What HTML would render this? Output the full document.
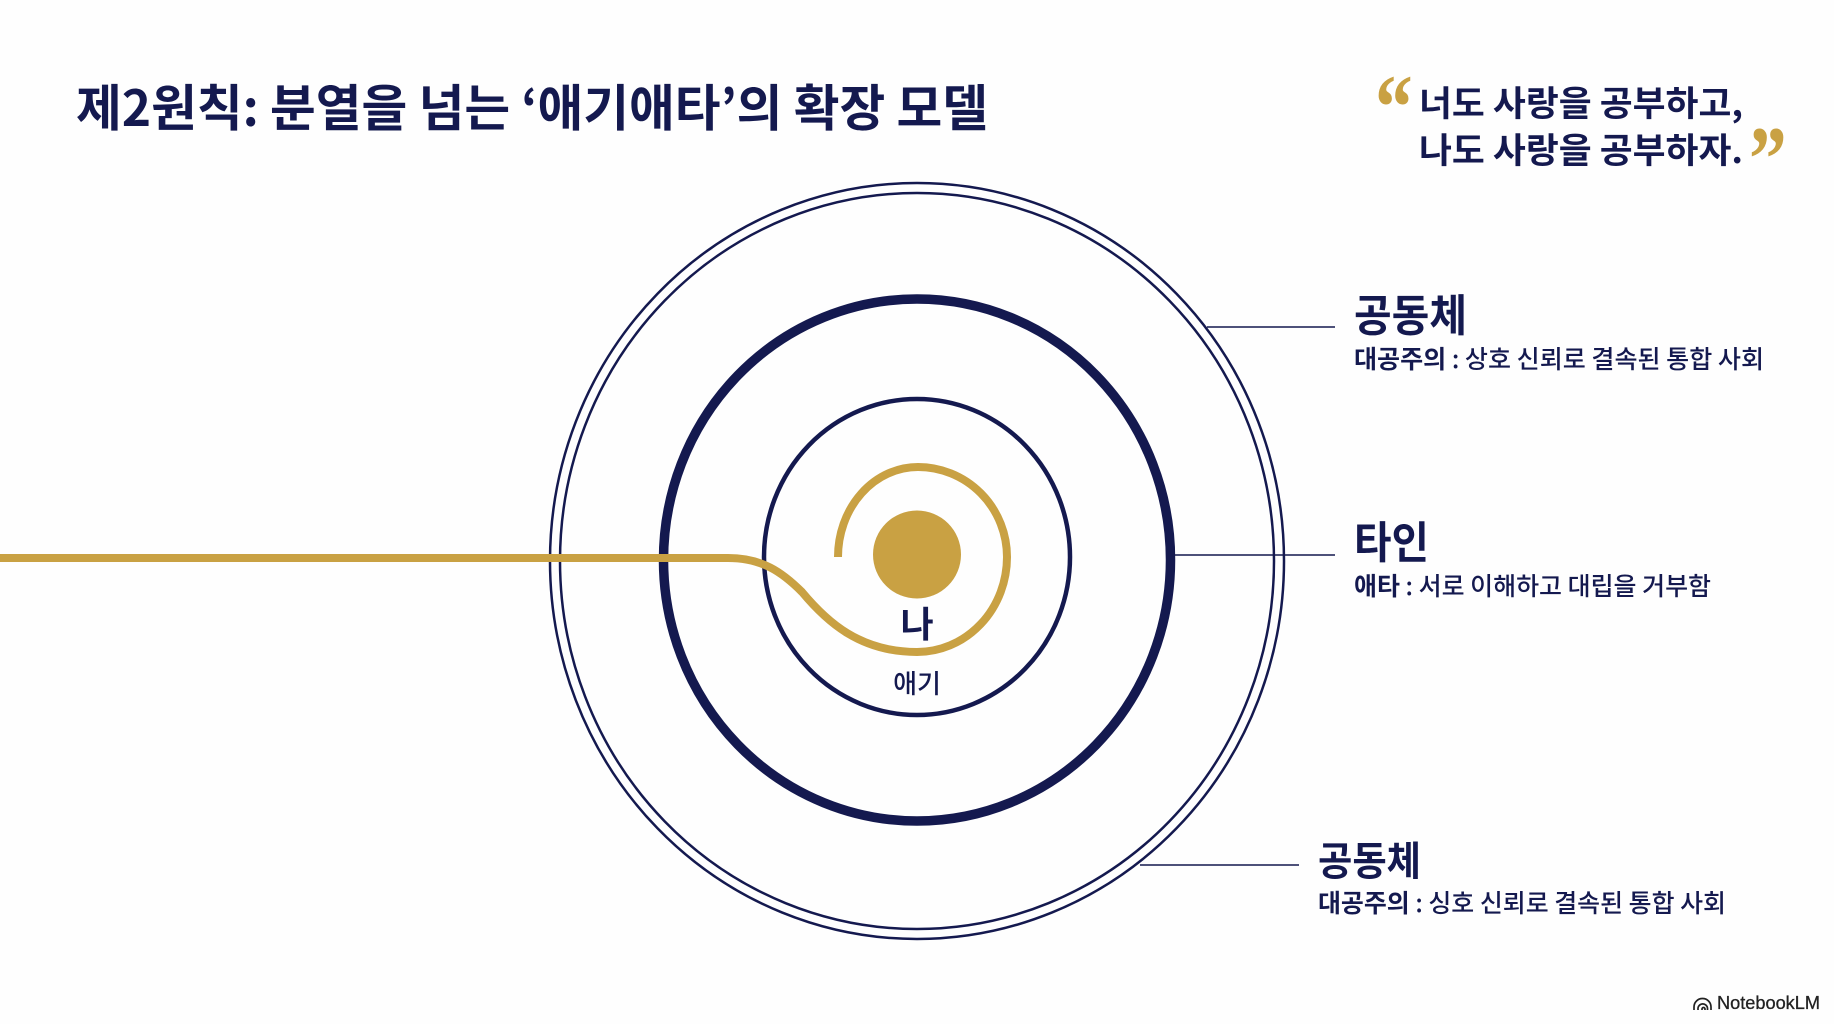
<!DOCTYPE html>
<html><head><meta charset="utf-8"><style>
html,body{margin:0;padding:0;background:#fff;width:1834px;height:1024px;overflow:hidden}
svg{display:block}
text{font-family:"Liberation Sans","Noto Sans CJK KR",sans-serif;fill:#14194f}
.k{font-family:"Noto Sans CJK KR","Liberation Sans",sans-serif}
</style></head><body>
<svg width="1834" height="1024" viewBox="0 0 1834 1024" xmlns="http://www.w3.org/2000/svg">
<rect width="1834" height="1024" fill="#fefefe"/>
<text class="k" x="76" y="126" font-size="50" font-weight="700" textLength="912" lengthAdjust="spacingAndGlyphs">제2원칙: 분열을 넘는 ‘애기애타’의 확장 모델</text>
<text transform="translate(1375 138) scale(.82 1)" font-size="92" font-weight="700" style="font-family:'Liberation Serif',serif;fill:#c9a143">“</text>
<text transform="translate(1749 190) scale(.82 1)" font-size="92" font-weight="700" style="font-family:'Liberation Serif',serif;fill:#c9a143">”</text>
<text class="k" x="1419" y="116" font-size="35" font-weight="700" textLength="324" lengthAdjust="spacingAndGlyphs">너도 사랑을 공부하고,</text>
<text class="k" x="1419" y="163" font-size="35" font-weight="700" textLength="324" lengthAdjust="spacingAndGlyphs">나도 사랑을 공부하자.</text>
<g fill="none" stroke="#14194f">
<ellipse cx="917" cy="561" rx="367" ry="378" stroke-width="2.5"/>
<ellipse cx="917" cy="561" rx="357" ry="368" stroke-width="2.5"/>
<ellipse cx="917" cy="560" rx="253.500" ry="261" stroke-width="9.500"/>
<ellipse cx="917" cy="557" rx="153" ry="158" stroke-width="4.5"/>
<g stroke-width="1.6">
<line x1="1207" y1="327" x2="1335" y2="327"/>
<line x1="1175" y1="555" x2="1335" y2="555"/>
<line x1="1140" y1="865" x2="1299" y2="865"/>
</g>
</g>
<circle cx="917" cy="554.500" r="44" fill="#c9a143"/>
<path d="M0 558 L728 558 C762 558 782 572 802 592 C827 622 860 652 917 652 A90 95 0 0 0 1007 557 A89 90 0 0 0 918 467 A80 90 0 0 0 838 557" fill="none" stroke="#c9a143" stroke-width="8"/>
<text class="k" x="917" y="637" font-size="36" font-weight="700" text-anchor="middle">나</text>
<text class="k" x="917" y="693" font-size="26" font-weight="500" text-anchor="middle">애기</text>
<text class="k" x="1354" y="331" font-size="44" font-weight="700" textLength="113" lengthAdjust="spacingAndGlyphs">공동체</text>
<text class="k" x="1354" y="368" font-size="25" font-weight="500" textLength="410" lengthAdjust="spacingAndGlyphs"><tspan font-weight="700">대공주의</tspan> : 상호 신뢰로 결속된 통합 사회</text>
<text class="k" x="1354" y="558" font-size="44" font-weight="700" textLength="75" lengthAdjust="spacingAndGlyphs">타인</text>
<text class="k" x="1354" y="595" font-size="25" font-weight="500" textLength="357" lengthAdjust="spacingAndGlyphs"><tspan font-weight="700">애타</tspan> : 서로 이해하고 대립을 거부함</text>
<text class="k" x="1318" y="875" font-size="40" font-weight="700" textLength="103" lengthAdjust="spacingAndGlyphs">공동체</text>
<text class="k" x="1318" y="912" font-size="25" font-weight="500" textLength="408" lengthAdjust="spacingAndGlyphs"><tspan font-weight="700">대공주의</tspan> : 싱호 신뢰로 결속된 통합 사회</text>
<g fill="none" stroke="#222" stroke-width="1.7">
<path d="M1694 1010 V1007 A8.500 8.500 0 0 1 1711 1007 V1010"/>
<path d="M1698 1010 V1008 A4.800 4.800 0 0 1 1707.500 1008 V1010"/>
<path d="M1702 1010 V1009 A1.500 1.500 0 0 1 1705 1009 V1010"/>
</g>
<text x="1717" y="1009" font-size="18" font-weight="400" textLength="103" lengthAdjust="spacingAndGlyphs" style="fill:#222;stroke:#222;stroke-width:.3">NotebookLM</text>
</svg>
</body></html>
